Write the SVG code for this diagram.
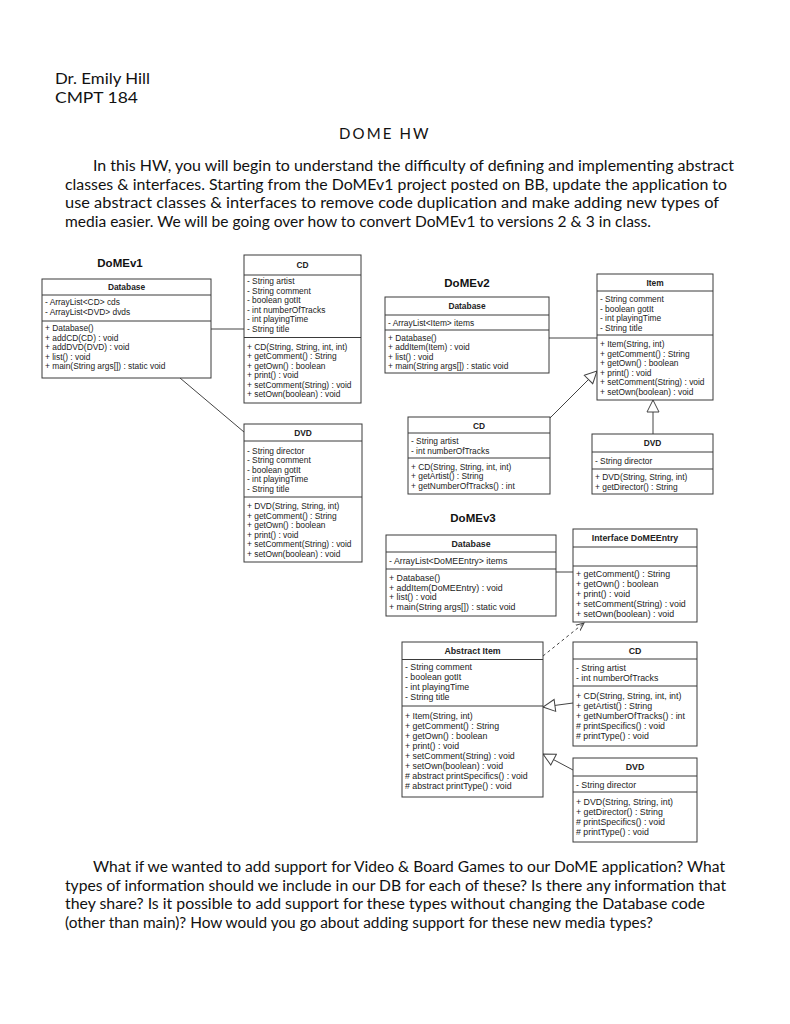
<svg xmlns="http://www.w3.org/2000/svg" width="790" height="1024" viewBox="0 0 790 1024">
<style>
.bg{fill:#fff}
.box{fill:#fff;stroke:#3a3a3a;stroke-width:1}
.sep{stroke:#3a3a3a;stroke-width:1}
.t{font-family:"Liberation Sans",Arial,sans-serif;font-size:8.4px;fill:#222}
.t3{font-family:"Liberation Sans",Arial,sans-serif;font-size:8.8px;fill:#222}
.hd{font-weight:bold;text-anchor:middle}
.lbl{font-family:"Liberation Sans",Arial,sans-serif;font-size:11.5px;font-weight:bold;fill:#111;text-anchor:middle}
.body{font-family:Lato,"Open Sans",sans-serif;font-size:15.5px;fill:#111}
.head{font-family:Lato,"Open Sans",sans-serif;font-size:15px;fill:#111}
.conn{fill:none;stroke:#444;stroke-width:1}
.dash{stroke-dasharray:3,3}
</style>
<defs>
<marker id="tri" markerUnits="userSpaceOnUse" markerWidth="14" markerHeight="14" refX="13" refY="6.5" orient="auto" viewBox="0 0 14 13">
<path d="M1,0.5 L13,6.5 L1,12.5 Z" fill="#fff" stroke="#444" stroke-width="1"/>
</marker>
<marker id="open" markerUnits="userSpaceOnUse" markerWidth="10" markerHeight="10" refX="8" refY="4" orient="auto" viewBox="0 0 10 8">
<path d="M0,0.5 L8,4 L0,7.5" fill="none" stroke="#444" stroke-width="1"/>
</marker>
</defs>
<rect class="bg" x="0" y="0" width="790" height="1024"/>

<g id="header">
<text class="head" x="55" y="84" textLength="95" lengthAdjust="spacingAndGlyphs">Dr. Emily Hill</text>
<text class="head" x="55" y="103" textLength="83" lengthAdjust="spacingAndGlyphs">CMPT 184</text>
<text class="head" x="339" y="139" font-size="15.5" textLength="93" lengthAdjust="spacing" letter-spacing="3.5">DOME HW</text>
</g>

<g id="intro">
<text class="body" x="93" y="171" textLength="641" lengthAdjust="spacingAndGlyphs">In this HW, you will begin to understand the difficulty of defining and implementing abstract</text>
<text class="body" x="65" y="190" textLength="662" lengthAdjust="spacingAndGlyphs">classes &amp; interfaces. Starting from the DoMEv1 project posted on BB, update the application to</text>
<text class="body" x="65" y="208" textLength="654" lengthAdjust="spacingAndGlyphs">use abstract classes &amp; interfaces to remove code duplication and make adding new types of</text>
<text class="body" x="65" y="227" textLength="586" lengthAdjust="spacingAndGlyphs">media easier. We will be going over how to convert DoMEv1 to versions 2 &amp; 3 in class.</text>
</g>

<g id="labels">
<text class="lbl" x="120" y="267">DoMEv1</text>
<text class="lbl" x="467" y="287">DoMEv2</text>
<text class="lbl" x="473" y="522">DoMEv3</text>
</g>

<g id="connectors">
<line class="conn" x1="211" y1="329" x2="244" y2="329"/>
<line class="conn" x1="180" y1="378" x2="244" y2="432"/>
<line class="conn" x1="549" y1="338" x2="597" y2="338"/>
<line class="conn" x1="550" y1="418" x2="597" y2="371" marker-end="url(#tri)"/>
<line class="conn" x1="653" y1="434" x2="653" y2="400" marker-end="url(#tri)"/>
<line class="conn" x1="556" y1="572" x2="573" y2="572"/>
<line class="conn dash" x1="543" y1="656" x2="584" y2="623" marker-end="url(#open)"/>
<line class="conn" x1="573" y1="703" x2="543" y2="707" marker-end="url(#tri)"/>
<line class="conn" x1="573" y1="770" x2="543" y2="754" marker-end="url(#tri)"/>
</g>

<g id="v1-database">
<rect class="box" x="42" y="279" width="169" height="99"/>
<line class="sep" x1="42" y1="295" x2="211" y2="295"/>
<line class="sep" x1="42" y1="321" x2="211" y2="321"/>
<text class="t hd" x="126.5" y="290">Database</text>
<text class="t" x="45" y="305">- ArrayList&lt;CD&gt; cds</text>
<text class="t" x="45" y="314.5">- ArrayList&lt;DVD&gt; dvds</text>
<text class="t" x="45" y="331">+ Database()</text>
<text class="t" x="45" y="340.5">+ addCD(CD) : void</text>
<text class="t" x="45" y="350">+ addDVD(DVD) : void</text>
<text class="t" x="45" y="359.5">+ list() : void</text>
<text class="t" x="45" y="369">+ main(String args[]) : static void</text>
</g>

<g id="v1-cd">
<rect class="box" x="244" y="255" width="117" height="148"/>
<line class="sep" x1="244" y1="275" x2="361" y2="275"/>
<line class="sep" x1="244" y1="337.5" x2="361" y2="337.5"/>
<text class="t hd" x="302.5" y="268">CD</text>
<text class="t" x="247" y="284">- String artist</text>
<text class="t" x="247" y="293.6">- String comment</text>
<text class="t" x="247" y="303.2">- boolean gotIt</text>
<text class="t" x="247" y="312.8">- int numberOfTracks</text>
<text class="t" x="247" y="322.4">- int playingTime</text>
<text class="t" x="247" y="332">- String title</text>
<text class="t" x="247" y="349.5">+ CD(String, String, int, int)</text>
<text class="t" x="247" y="359">+ getComment() : String</text>
<text class="t" x="247" y="368.5">+ getOwn() : boolean</text>
<text class="t" x="247" y="378">+ print() : void</text>
<text class="t" x="247" y="387.5">+ setComment(String) : void</text>
<text class="t" x="247" y="397">+ setOwn(boolean) : void</text>
</g>

<g id="v1-dvd">
<rect class="box" x="244" y="424" width="118" height="138"/>
<line class="sep" x1="244" y1="441" x2="362" y2="441"/>
<line class="sep" x1="244" y1="497" x2="362" y2="497"/>
<text class="t hd" x="303" y="435.5">DVD</text>
<text class="t" x="247" y="453.5">- String director</text>
<text class="t" x="247" y="463">- String comment</text>
<text class="t" x="247" y="472.5">- boolean gotIt</text>
<text class="t" x="247" y="482">- int playingTime</text>
<text class="t" x="247" y="491.5">- String title</text>
<text class="t" x="247" y="509">+ DVD(String, String, int)</text>
<text class="t" x="247" y="518.5">+ getComment() : String</text>
<text class="t" x="247" y="528">+ getOwn() : boolean</text>
<text class="t" x="247" y="537.5">+ print() : void</text>
<text class="t" x="247" y="547">+ setComment(String) : void</text>
<text class="t" x="247" y="556.5">+ setOwn(boolean) : void</text>
</g>

<g id="v2-database">
<rect class="box" x="385" y="297" width="164" height="76"/>
<line class="sep" x1="385" y1="315" x2="549" y2="315"/>
<line class="sep" x1="385" y1="330" x2="549" y2="330"/>
<text class="t hd" x="467" y="309">Database</text>
<text class="t" x="388" y="325.5">- ArrayList&lt;Item&gt; items</text>
<text class="t" x="388" y="340.5">+ Database()</text>
<text class="t" x="388" y="350">+ addItem(Item) : void</text>
<text class="t" x="388" y="359.5">+ list() : void</text>
<text class="t" x="388" y="369">+ main(String args[]) : static void</text>
</g>

<g id="v2-item">
<rect class="box" x="597" y="274" width="116" height="126"/>
<line class="sep" x1="597" y1="291" x2="713" y2="291"/>
<line class="sep" x1="597" y1="335" x2="713" y2="335"/>
<text class="t hd" x="655" y="285.5">Item</text>
<text class="t" x="600" y="302">- String comment</text>
<text class="t" x="600" y="311.5">- boolean gotIt</text>
<text class="t" x="600" y="321">- int playingTime</text>
<text class="t" x="600" y="330.5">- String title</text>
<text class="t" x="600" y="347">+ Item(String, int)</text>
<text class="t" x="600" y="356.5">+ getComment() : String</text>
<text class="t" x="600" y="366">+ getOwn() : boolean</text>
<text class="t" x="600" y="375.5">+ print() : void</text>
<text class="t" x="600" y="385">+ setComment(String) : void</text>
<text class="t" x="600" y="394.5">+ setOwn(boolean) : void</text>
</g>

<g id="v2-cd">
<rect class="box" x="408" y="417" width="142" height="77"/>
<line class="sep" x1="408" y1="433" x2="550" y2="433"/>
<line class="sep" x1="408" y1="458" x2="550" y2="458"/>
<text class="t hd" x="479" y="428.5">CD</text>
<text class="t" x="411" y="444">- String artist</text>
<text class="t" x="411" y="453.5">- int numberOfTracks</text>
<text class="t" x="411" y="469.5">+ CD(String, String, int, int)</text>
<text class="t" x="411" y="479">+ getArtist() : String</text>
<text class="t" x="411" y="488.5">+ getNumberOfTracks() : int</text>
</g>

<g id="v2-dvd">
<rect class="box" x="592" y="434" width="121" height="60"/>
<line class="sep" x1="592" y1="452" x2="713" y2="452"/>
<line class="sep" x1="592" y1="469" x2="713" y2="469"/>
<text class="t hd" x="652.5" y="446">DVD</text>
<text class="t" x="595" y="463.5">- String director</text>
<text class="t" x="595" y="480">+ DVD(String, String, int)</text>
<text class="t" x="595" y="489.5">+ getDirector() : String</text>
</g>

<g id="v3-database">
<rect class="box" x="386" y="535" width="170" height="81"/>
<line class="sep" x1="386" y1="552" x2="556" y2="552"/>
<line class="sep" x1="386" y1="569" x2="556" y2="569"/>
<text class="t3 hd" x="471" y="546.5">Database</text>
<text class="t3" x="389" y="563.5">- ArrayList&lt;DoMEEntry&gt; items</text>
<text class="t3" x="389" y="581">+ Database()</text>
<text class="t3" x="389" y="590.5">+ addItem(DoMEEntry) : void</text>
<text class="t3" x="389" y="600">+ list() : void</text>
<text class="t3" x="389" y="609.5">+ main(String args[]) : static void</text>
</g>

<g id="v3-interface">
<rect class="box" x="573" y="529" width="124" height="93"/>
<line class="sep" x1="573" y1="547" x2="697" y2="547"/>
<line class="sep" x1="573" y1="566" x2="697" y2="566"/>
<text class="t3 hd" x="635" y="541">Interface DoMEEntry</text>
<text class="t3" x="576" y="576.5">+ getComment() : String</text>
<text class="t3" x="576" y="586.5">+ getOwn() : boolean</text>
<text class="t3" x="576" y="596.5">+ print() : void</text>
<text class="t3" x="576" y="606.5">+ setComment(String) : void</text>
<text class="t3" x="576" y="616.5">+ setOwn(boolean) : void</text>
</g>

<g id="v3-abstract-item">
<rect class="box" x="402" y="642" width="141" height="155"/>
<line class="sep" x1="402" y1="659.5" x2="543" y2="659.5"/>
<line class="sep" x1="402" y1="706" x2="543" y2="706"/>
<text class="t3 hd" x="472.5" y="654">Abstract Item</text>
<text class="t3" x="405" y="670">- String comment</text>
<text class="t3" x="405" y="680">- boolean gotIt</text>
<text class="t3" x="405" y="690">- int playingTime</text>
<text class="t3" x="405" y="700">- String title</text>
<text class="t3" x="405" y="719">+ Item(String, int)</text>
<text class="t3" x="405" y="729">+ getComment() : String</text>
<text class="t3" x="405" y="739">+ getOwn() : boolean</text>
<text class="t3" x="405" y="749">+ print() : void</text>
<text class="t3" x="405" y="759">+ setComment(String) : void</text>
<text class="t3" x="405" y="769">+ setOwn(boolean) : void</text>
<text class="t3" x="405" y="779"># abstract printSpecifics() : void</text>
<text class="t3" x="405" y="789"># abstract printType() : void</text>
</g>

<g id="v3-cd">
<rect class="box" x="573" y="642" width="124" height="104"/>
<line class="sep" x1="573" y1="659" x2="697" y2="659"/>
<line class="sep" x1="573" y1="686" x2="697" y2="686"/>
<text class="t3 hd" x="635" y="653.5">CD</text>
<text class="t3" x="576" y="670.5">- String artist</text>
<text class="t3" x="576" y="680.5">- int numberOfTracks</text>
<text class="t3" x="576" y="698.5">+ CD(String, String, int, int)</text>
<text class="t3" x="576" y="708.5">+ getArtist() : String</text>
<text class="t3" x="576" y="718.5">+ getNumberOfTracks() : int</text>
<text class="t3" x="576" y="728.5"># printSpecifics() : void</text>
<text class="t3" x="576" y="738.5"># printType() : void</text>
</g>

<g id="v3-dvd">
<rect class="box" x="573" y="758" width="124" height="84"/>
<line class="sep" x1="573" y1="776" x2="697" y2="776"/>
<line class="sep" x1="573" y1="792" x2="697" y2="792"/>
<text class="t3 hd" x="635" y="770">DVD</text>
<text class="t3" x="576" y="787.5">- String director</text>
<text class="t3" x="576" y="804.5">+ DVD(String, String, int)</text>
<text class="t3" x="576" y="814.5">+ getDirector() : String</text>
<text class="t3" x="576" y="824.5"># printSpecifics() : void</text>
<text class="t3" x="576" y="834.5"># printType() : void</text>
</g>

<g id="questions">
<text class="body" x="93" y="872" textLength="632" lengthAdjust="spacingAndGlyphs">What if we wanted to add support for Video &amp; Board Games to our DoME application? What</text>
<text class="body" x="65" y="891" textLength="661" lengthAdjust="spacingAndGlyphs">types of information should we include in our DB for each of these? Is there any information that</text>
<text class="body" x="65" y="909" textLength="640" lengthAdjust="spacingAndGlyphs">they share? Is it possible to add support for these types without changing the Database code</text>
<text class="body" x="65" y="928" textLength="588" lengthAdjust="spacingAndGlyphs">(other than main)? How would you go about adding support for these new media types?</text>
</g>
</svg>
